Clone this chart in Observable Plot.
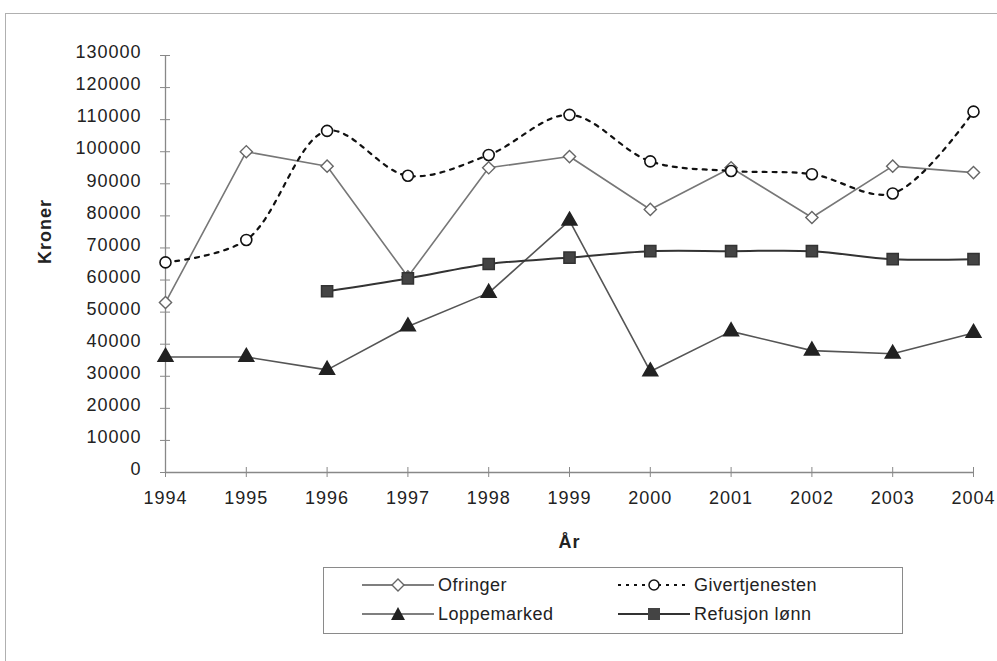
<!DOCTYPE html>
<html><head><meta charset="utf-8">
<script src="https://cdn.jsdelivr.net/npm/d3@7"></script>
<script src="https://cdn.jsdelivr.net/npm/@observablehq/plot@0.6"></script>
<style>
body{margin:0;background:#fff;}
#wrap{position:relative;width:997px;height:661px;overflow:hidden;font-family:"Liberation Sans",Arial,sans-serif;}
#frame{position:absolute;left:5px;top:13px;width:1000px;height:660px;border:1.5px solid #b0b0b0;}
#chart{position:absolute;left:0;top:0;}
#legend{position:absolute;left:323px;top:567px;width:580px;height:67px;border:1.5px solid #8a8a8a;box-sizing:border-box;background:#fff;}
.item{position:absolute;height:26px;display:flex;align-items:center;font-size:18px;letter-spacing:0.5px;color:#222;}
.item svg{display:block;margin-right:4px;}
</style>
</head><body>
<div id="wrap"><div id="frame"></div><div id="chart"></div><div id="legend"></div></div>
<script>
const years = [1994,1995,1996,1997,1998,1999,2000,2001,2002,2003,2004];
const ofringer = [53000,100000,95500,61000,95000,98500,82000,95000,79500,95500,93500];
const givertjenesten = [65500,72500,106500,92500,99000,111500,97000,94000,93000,87000,112500];
const loppemarked = [36000,36000,32000,45500,56000,78500,31500,44000,38000,37000,43500];
const refusjon = [null,null,56500,60500,65000,67000,69000,69000,69000,66500,66500];
const yTicks = [0,10000,20000,30000,40000,50000,60000,70000,80000,90000,100000,110000,120000,130000];
const seriesNames = ["Ofringer","Givertjenesten","Loppemarked","Refusjon lønn"];

const toRows = (vals) => years.map((y,i)=>({year:y, value:vals[i]})).filter(d=>d.value!=null);
const ofr = toRows(ofringer), giv = toRows(givertjenesten), lop = toRows(loppemarked), ref = toRows(refusjon);

const chart = Plot.plot({
  width: 997, height: 661,
  marginLeft: 165, marginRight: 24, marginTop: 55, marginBottom: 189,
  style: {fontFamily: "'Liberation Sans', Arial, sans-serif", fontSize: "18px", color: "#222", letterSpacing: "1px", background: "transparent"},
  x: {domain: [1994, 2004]},
  y: {domain: [0, 130000]},
  marks: [
    Plot.axisY({ticks: yTicks, tickSize: 10, dx: 5, tickFormat: () => "", stroke: "#888", label: null}),
    Plot.axisY({ticks: yTicks, tickSize: 0, dy: -3, tickPadding: 24, tickFormat: d => String(d), label: null}),
    Plot.axisX({ticks: years, tickSize: 10, dy: -5, tickPadding: 14, tickFormat: d => String(d), stroke: "#888", label: null}),
    Plot.ruleX([1994], {stroke: "#888", strokeWidth: 1.3}),
    Plot.ruleY([0], {stroke: "#888", strokeWidth: 1.3}),
    Plot.text(["Kroner"], {frameAnchor: "left", dx: -120, rotate: -90, fontWeight: "bold", fontSize: 18}),
    Plot.text(["År"], {frameAnchor: "bottom", dy: 75, fontWeight: "bold", fontSize: 18}),
    Plot.line(ofr, {x: "year", y: "value", stroke: "#777", strokeWidth: 1.6}),
    Plot.line(lop, {x: "year", y: "value", stroke: "#555", strokeWidth: 1.6}),
    Plot.line(ref, {x: "year", y: "value", stroke: "#333", strokeWidth: 2, curve: "catmull-rom"}),
    Plot.line(giv, {x: "year", y: "value", stroke: "#111", strokeWidth: 2.2, strokeDasharray: "4,6", curve: "catmull-rom"}),
    Plot.dot(ofr, {x: "year", y: "value", symbol: "diamond2", r: 5.5, fill: "white", stroke: "#666", strokeWidth: 1.4}),
    Plot.dot(giv, {x: "year", y: "value", symbol: "circle", r: 5.5, fill: "white", stroke: "#111", strokeWidth: 1.6}),
    Plot.dot(lop, {x: "year", y: "value", symbol: "triangle", r: 5.5, fill: "#222", stroke: "#222"}),
    Plot.dot(ref, {x: "year", y: "value", symbol: "square", r: 6.3, fill: "#444", stroke: "#333"})
  ]
});
document.getElementById("chart").appendChild(chart);

// Legend
const legend = document.getElementById("legend");
const glyphs = [
  {line: '<line x1="0" y1="13" x2="72" y2="13" stroke="#555" stroke-width="1.5"/>', mark: '<path d="M36,7 L42,13 L36,19 L30,13 Z" fill="white" stroke="#666" stroke-width="1.4"/>'},
  {line: '<line x1="0" y1="13" x2="72" y2="13" stroke="#111" stroke-width="2" stroke-dasharray="3,5"/>', mark: '<circle cx="36" cy="13" r="5" fill="white" stroke="#111" stroke-width="1.5"/>'},
  {line: '<line x1="0" y1="13" x2="72" y2="13" stroke="#555" stroke-width="1.5"/>', mark: '<path d="M36,6 L43,19 L29,19 Z" fill="#222"/>'},
  {line: '<line x1="0" y1="13" x2="72" y2="13" stroke="#333" stroke-width="1.8"/>', mark: '<rect x="30" y="7" width="12" height="12" fill="#444"/>'}
];
const pos = [[38,4],[294,4],[38,33],[294,33]];
seriesNames.forEach((name,i)=>{
  const d = document.createElement("div");
  d.className = "item";
  d.style.left = pos[i][0] + "px";
  d.style.top = pos[i][1] + "px";
  d.innerHTML = `<svg width="72" height="26">${glyphs[i].line}${glyphs[i].mark}</svg><span>${name}</span>`;
  legend.appendChild(d);
});
</script>
</body></html>
